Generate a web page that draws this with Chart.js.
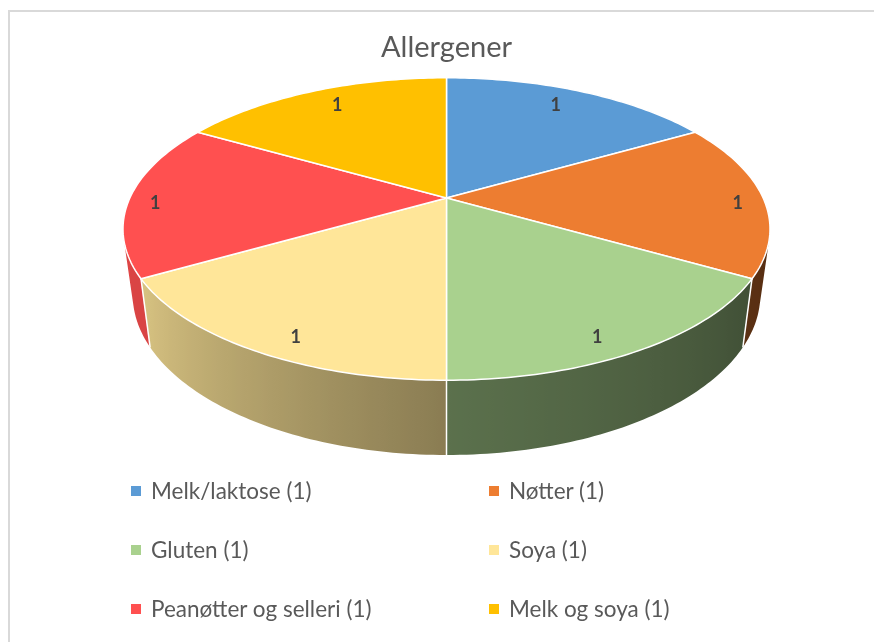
<!DOCTYPE html>
<html>
<head>
<meta charset="utf-8">
<script src="https://cdn.jsdelivr.net/npm/chart.js@4/dist/chart.umd.min.js"></script>
<style>
  html, body { margin: 0; padding: 0; background: #fff; overflow: hidden; }
  body { width: 874px; height: 642px; position: relative; font-family: Lato, 'Noto Sans', sans-serif; }
  .frame { position: absolute; left: 8px; top: 10px; width: 900px; height: 700px; border: 2px solid #d9d9d9; box-sizing: border-box; }
  canvas { position: absolute; left: 0; top: 0; }
  .legend { position: absolute; left: 131px; top: 461px; display: grid; grid-template-columns: 358px 320px; grid-auto-rows: 59px; }
  .legend-item { display: flex; align-items: center; font-size: 22.5px; color: #595959; white-space: nowrap; }
  .legend-box { width: 10px; height: 10px; margin-right: 10px; flex: none; }
</style>
</head>
<body>
<div class="frame"></div>
<canvas id="chart" width="874" height="642"></canvas>
<div class="legend" id="legend"></div>
<script>
const categories = ['Melk/laktose', 'Nøtter', 'Gluten', 'Soya', 'Peanøtter og selleri', 'Melk og soya'];
const counts = [1, 1, 1, 1, 1, 1];
const sliceColors = ['#5B9BD5', '#ED7D31', '#A9D18E', '#FFE699', '#FF5050', '#FFC000'];

// 3D look (Excel style pie): perspective, tilt, rim depth
const PERSP = -0.205;   // far half drawn smaller than near half
const TILT = 0.4575;    // vertical radius / horizontal radius
const SHRINK = 0.97;    // bottom rim a bit narrower
const LABEL_RY = 0.9;
const LABEL_RX = [0.76, 0.16]; // base + extra for slices pointing sideways
const LABEL_DY = 5;
// wall brightness by direction (degrees clockwise from top)
const wallLight = [[90, 0.36], [120, 0.38], [180, 0.54], [240, 0.85], [270, 0.88]];

function lightAt(deg) {
  if (deg <= wallLight[0][0]) return wallLight[0][1];
  for (let i = 1; i < wallLight.length; i++) {
    const [d1, f1] = wallLight[i];
    const [d0, f0] = wallLight[i - 1];
    if (deg <= d1) return f0 + (f1 - f0) * (deg - d0) / (d1 - d0);
  }
  return wallLight[wallLight.length - 1][1];
}

function shade(hex, f) {
  const n = parseInt(hex.slice(1), 16);
  const r = Math.round(((n >> 16) & 255) * f);
  const g = Math.round(((n >> 8) & 255) * f);
  const b = Math.round((n & 255) * f);
  return `rgb(${r},${g},${b})`;
}

const pie3d = {
  id: 'pie3d',
  beforeDatasetsDraw(chart) {
    const ctx = chart.ctx;
    const area = chart.chartArea;
    const arcs = chart.getDatasetMeta(0).data;
    const ds = chart.data.datasets[0];
    const cx = arcs[0].x;
    const a = (area.width / 2) * Math.sqrt(1 - PERSP * PERSP);
    const b = a * TILT;
    const cy = area.top + b / (1 - PERSP);
    const h = (area.bottom - cy) * (1 + PERSP) - SHRINK * b;

    const top = (t, k = 1, kx = k) => {
      const d = 1 + PERSP * k * Math.sin(t);
      return [cx + a * kx * Math.cos(t) / d, cy + b * k * Math.sin(t) / d];
    };
    const bottom = (t) => {
      const d = 1 + PERSP * Math.sin(t);
      return [cx + SHRINK * a * Math.cos(t) / d, cy + (SHRINK * b * Math.sin(t) + h) / d];
    };
    const step = Math.PI / 180;

    ctx.save();
    ctx.lineJoin = 'round';

    // side walls (front half only), one fill per slice with a sideways gradient
    arcs.forEach((arc, i) => {
      const s = Math.max(arc.startAngle, 0);
      const e = Math.min(arc.endAngle, Math.PI);
      if (s >= e) return;
      const n = Math.ceil((e - s) / step);
      ctx.beginPath();
      let xmin = Infinity, xmax = -Infinity;
      const samples = [];
      for (let j = 0; j < n; j++) {
        const t0 = s + (e - s) * j / n;
        const t1 = s + (e - s) * (j + 1) / n;
        let quad = [top(t0), top(t1), bottom(t1), bottom(t0)];
        let area2 = 0;
        for (let k = 0; k < 4; k++) {
          const [x1, y1] = quad[k], [x2, y2] = quad[(k + 1) % 4];
          area2 += x1 * y2 - x2 * y1;
        }
        if (area2 < 0) quad = quad.reverse();
        ctx.moveTo(quad[0][0], quad[0][1]);
        for (let k = 1; k < 4; k++) ctx.lineTo(quad[k][0], quad[k][1]);
        ctx.closePath();
        samples.push([top(t0)[0], lightAt((t0 + Math.PI / 2) * 180 / Math.PI)]);
        quad.forEach(([x]) => { xmin = Math.min(xmin, x); xmax = Math.max(xmax, x); });
      }
      samples.push([top(e)[0], lightAt((e + Math.PI / 2) * 180 / Math.PI)]);
      const grad = ctx.createLinearGradient(xmin, 0, xmax, 0);
      samples.forEach(([x, f]) => {
        grad.addColorStop(Math.min(1, Math.max(0, (x - xmin) / (xmax - xmin))), shade(ds.backgroundColor[i], f));
      });
      ctx.fillStyle = grad;
      ctx.fill('nonzero');
    });

    // white seams between walls
    ctx.strokeStyle = '#ffffff';
    ctx.lineWidth = 1.5;
    arcs.forEach((arc) => {
      const t = arc.endAngle;
      if (t > 0 && t < Math.PI) {
        const p = top(t), q = bottom(t);
        ctx.beginPath();
        ctx.moveTo(p[0], p[1]);
        ctx.lineTo(q[0], q[1]);
        ctx.stroke();
      }
    });

    // top faces
    arcs.forEach((arc, i) => {
      const s = arc.startAngle, e = arc.endAngle;
      const n = Math.ceil((e - s) / step);
      ctx.beginPath();
      ctx.moveTo(cx, cy);
      for (let j = 0; j <= n; j++) {
        const p = top(s + (e - s) * j / n);
        ctx.lineTo(p[0], p[1]);
      }
      ctx.closePath();
      ctx.fillStyle = ds.backgroundColor[i];
      ctx.fill();
      ctx.strokeStyle = '#ffffff';
      ctx.lineWidth = 1.5;
      ctx.stroke();
    });

    // value labels
    ctx.fillStyle = '#404040';
    ctx.font = 'bold 18px Lato, sans-serif';
    ctx.textAlign = 'center';
    ctx.textBaseline = 'middle';
    arcs.forEach((arc, i) => {
      const mid = (arc.startAngle + arc.endAngle) / 2;
      const kx = LABEL_RX[0] + LABEL_RX[1] * Math.cos(mid) ** 2;
      const p = top(mid, LABEL_RY, kx);
      ctx.fillText(String(ds.data[i]), p[0], p[1] + LABEL_DY);
    });

    ctx.restore();
    return false;
  }
};

new Chart(document.getElementById('chart'), {
  type: 'pie',
  data: {
    labels: categories,
    datasets: [{
      data: counts,
      backgroundColor: sliceColors,
      borderColor: '#ffffff',
      borderWidth: 1.5
    }]
  },
  options: {
    responsive: false,
    animation: false,
    layout: { padding: { top: 10, left: 123, right: 104, bottom: 187 } },
    plugins: {
      legend: { display: false },
      tooltip: { enabled: false },
      title: {
        display: true,
        text: 'Allergener',
        color: '#595959',
        font: { family: 'Lato', size: 29, weight: 'normal' },
        padding: { top: 20, bottom: 13 }
      }
    }
  },
  plugins: [pie3d]
});

// legend in two columns, like the original
const legendEl = document.getElementById('legend');
categories.forEach((name, i) => {
  const item = document.createElement('div');
  item.className = 'legend-item';
  const box = document.createElement('span');
  box.className = 'legend-box';
  box.style.background = sliceColors[i];
  item.appendChild(box);
  item.appendChild(document.createTextNode(`${name} (${counts[i]})`));
  legendEl.appendChild(item);
});
</script>
</body>
</html>
